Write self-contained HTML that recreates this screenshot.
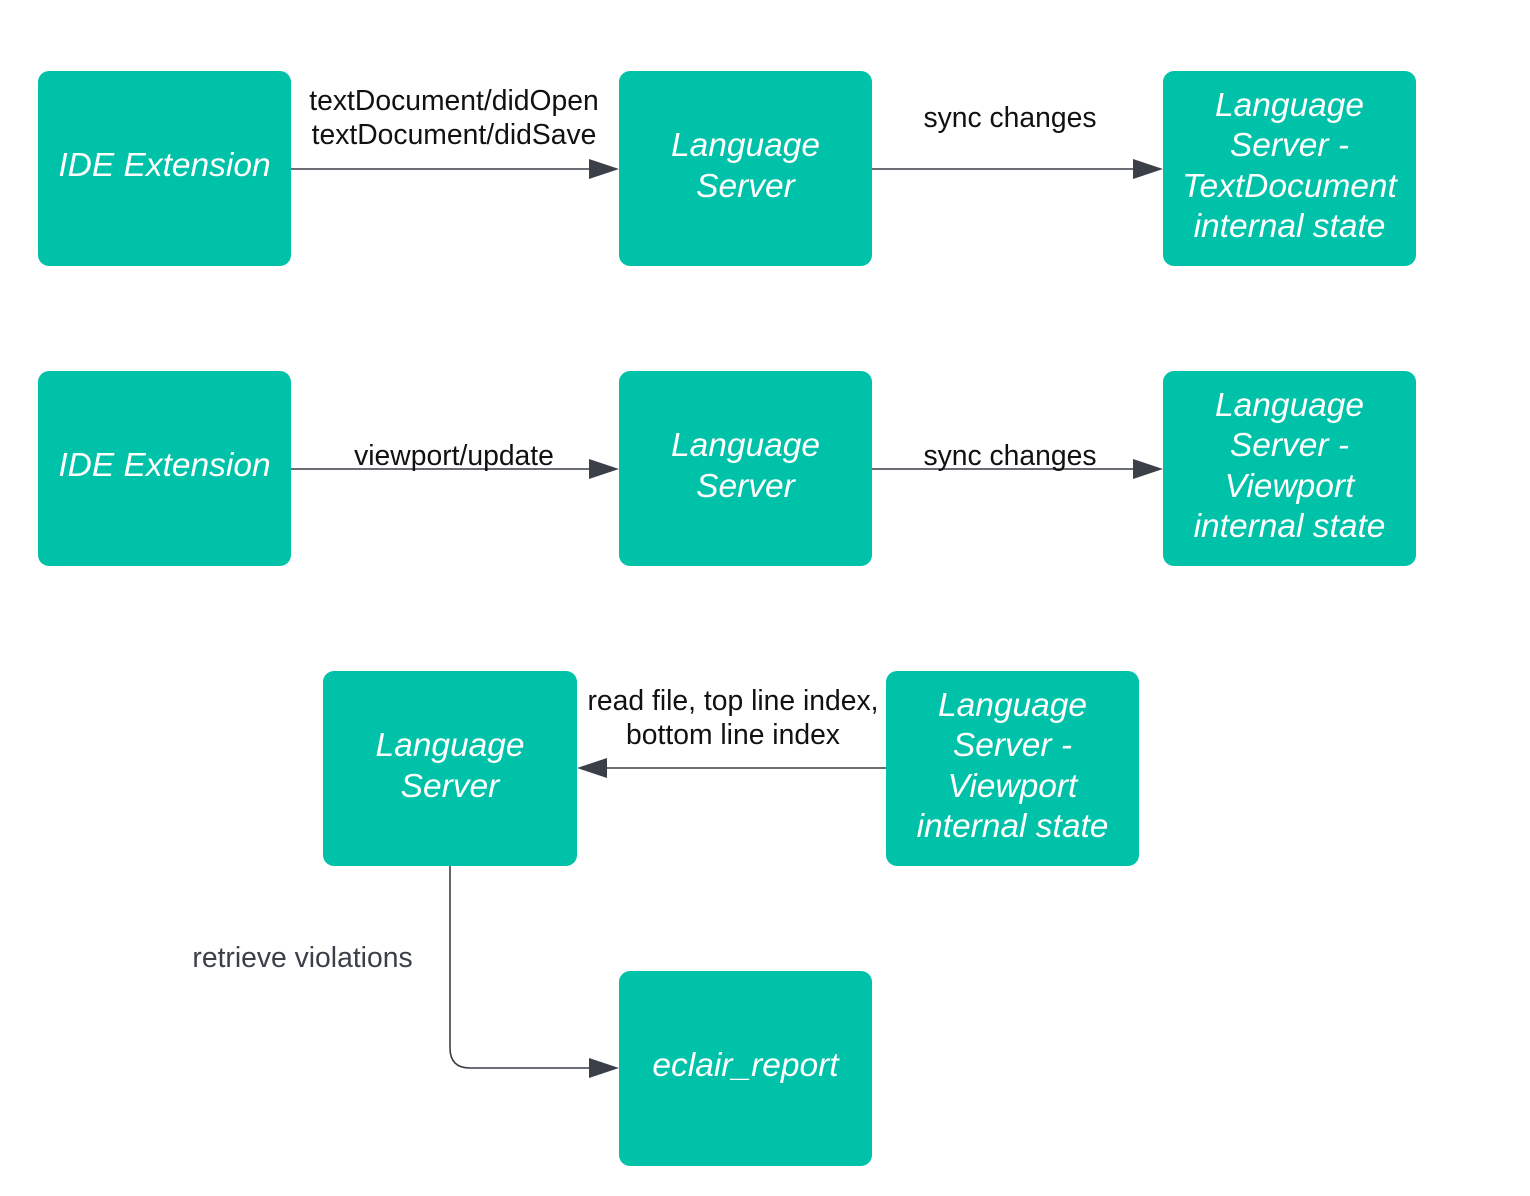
<!DOCTYPE html>
<html><head><meta charset="utf-8"><style>
html,body{margin:0;padding:0;background:#fff;}
body{width:1530px;height:1196px;position:relative;overflow:hidden;font-family:"Liberation Sans",Arial,sans-serif;}
.b{position:absolute;width:253px;height:195px;background:#00c2a8;border-radius:11px;color:#fff;font-style:italic;font-size:33.5px;line-height:40.5px;display:flex;align-items:center;justify-content:center;text-align:center;}
.b span{position:relative;top:-2px;}
.l{position:absolute;font-size:28.3px;line-height:34px;color:#111;text-align:center;white-space:nowrap;}
svg{position:absolute;left:0;top:0;}
</style></head><body>
<svg width="1530" height="1196">
<g stroke="#3b3f48" stroke-width="1.6" fill="none">
<line x1="291" y1="169" x2="592" y2="169"/>
<line x1="872" y1="169" x2="1135" y2="169"/>
<line x1="291" y1="469" x2="592" y2="469"/>
<line x1="872" y1="469" x2="1135" y2="469"/>
<line x1="886" y1="768" x2="605" y2="768"/>
<path d="M450 866 V1048 Q450 1068 470 1068 H592"/>
</g>
<g fill="#3b3f48">
<polygon points="619,169 589,159 589,179"/>
<polygon points="1163,169 1133,159 1133,179"/>
<polygon points="619,469 589,459 589,479"/>
<polygon points="1163,469 1133,459 1133,479"/>
<polygon points="577,768 607,758 607,778"/>
<polygon points="619,1068 589,1058 589,1078"/>
</g>
</svg>
<div class="b" style="left:38px;top:71px"><span>IDE Extension</span></div>
<div class="b" style="left:619px;top:71px"><span>Language<br>Server</span></div>
<div class="b" style="left:1163px;top:71px"><span>Language<br>Server -<br>TextDocument<br>internal state</span></div>
<div class="b" style="left:38px;top:371px"><span>IDE Extension</span></div>
<div class="b" style="left:619px;top:371px"><span>Language<br>Server</span></div>
<div class="b" style="left:1163px;top:371px"><span>Language<br>Server -<br>Viewport<br>internal state</span></div>
<div class="b" style="left:323px;top:671px;width:254px"><span>Language<br>Server</span></div>
<div class="b" style="left:886px;top:671px"><span>Language<br>Server -<br>Viewport<br>internal state</span></div>
<div class="b" style="left:619px;top:971px"><span>eclair_report</span></div>
<div class="l" style="left:284px;top:83px;width:340px">textDocument/didOpen<br>textDocument/didSave</div>
<div class="l" style="left:870px;top:100px;width:280px">sync changes</div>
<div class="l" style="left:284px;top:438px;width:340px">viewport/update</div>
<div class="l" style="left:870px;top:438px;width:280px">sync changes</div>
<div class="l" style="left:563px;top:683px;width:340px">read file, top line index,<br>bottom line index</div>
<div class="l" style="left:150px;top:940px;width:305px;color:#3b3f48">retrieve violations</div>
</body></html>
